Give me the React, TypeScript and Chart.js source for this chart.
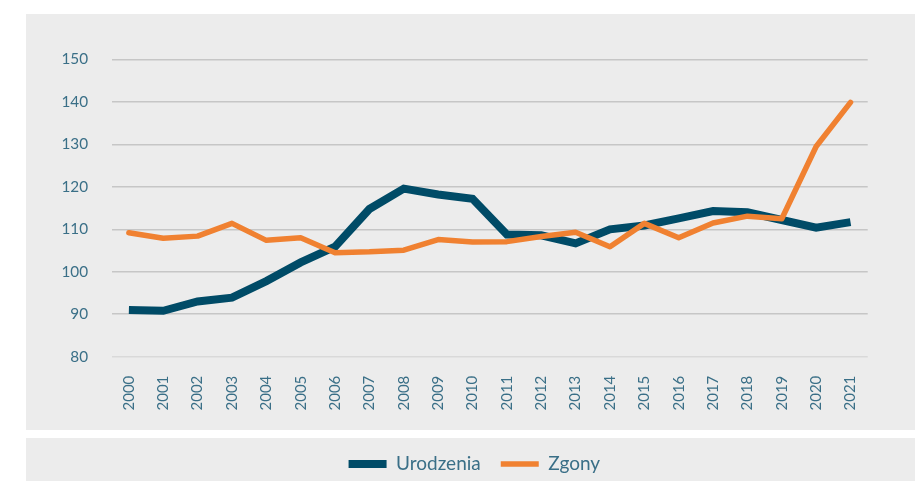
import React, { useEffect, useRef } from "react";
import { Chart, registerables } from "chart.js";

Chart.register(...registerables);

const years = [
  "2000", "2001", "2002", "2003", "2004", "2005", "2006", "2007", "2008", "2009", "2010",
  "2011", "2012", "2013", "2014", "2015", "2016", "2017", "2018", "2019", "2020", "2021",
];
const urodzenia = [
  91.0, 90.8, 93.0, 93.9, 97.8, 102.2, 105.9, 114.8, 119.6, 118.2, 117.2,
  108.8, 108.6, 106.7, 110.0, 110.9, 112.6, 114.3, 114.0, 112.2, 110.4, 111.7,
];
const zgony = [
  109.2, 107.9, 108.4, 111.4, 107.4, 108.0, 104.5, 104.7, 105.1, 107.6, 107.0,
  107.1, 108.3, 109.3, 105.9, 111.4, 108.0, 111.5, 113.1, 112.5, 129.5, 139.9,
];
const seriesNames = ["Urodzenia", "Zgony"];
const yMin = 80;
const yMax = 150;
const yStep = 10;

const TEXT = "#3a6f87";
const DARK = "#004b67";
const ORANGE = "#f08131";
const PANEL = "#ececec";

const backgroundPlugin = {
  id: "panels",
  beforeDraw(chart: any) {
    const ctx = chart.ctx;
    ctx.save();
    ctx.fillStyle = "#ffffff";
    ctx.fillRect(0, 0, chart.width, chart.height);
    ctx.fillStyle = PANEL;
    ctx.fillRect(26, 14, chart.width - 26, 416);
    ctx.fillRect(26, 438, chart.width - 26, chart.height - 438);
    ctx.restore();
  },
};

// centre the legend on the grey legend panel rather than on the plot
const legendShiftPlugin = {
  id: "legendShift",
  afterLayout(chart: any) {
    const lg = chart.legend;
    if (lg) {
      lg.left = 81;
      lg.width = lg.right - lg.left;
    }
  },
};

export default function App() {
  const ref = useRef<HTMLCanvasElement>(null);

  useEffect(() => {
    if (!ref.current) return;
    const chart = new Chart(ref.current, {
      type: "line",
      data: {
        labels: years,
        datasets: [
          {
            label: seriesNames[0],
            data: urodzenia,
            borderColor: DARK,
            backgroundColor: DARK,
            borderWidth: 8,
            borderCapStyle: "butt",
            borderJoinStyle: "miter",
            pointRadius: 0,
            tension: 0,
            order: 2,
          },
          {
            label: seriesNames[1],
            data: zgony,
            borderColor: ORANGE,
            backgroundColor: ORANGE,
            borderWidth: 5.5,
            borderCapStyle: "round",
            borderJoinStyle: "round",
            pointRadius: 0,
            tension: 0,
            order: 1,
          },
        ],
      },
      options: {
        animation: false,
        responsive: false,
        maintainAspectRatio: false,
        layout: { padding: { left: 50, right: 47.3, top: 59.5, bottom: -2.5 } },
        plugins: {
          tooltip: { enabled: false },
          legend: {
            position: "bottom",
            labels: {
              usePointStyle: true,
              pointStyle: "line",
              pointStyleWidth: 38,
              padding: 20,
              color: TEXT,
              font: { family: "Lato", size: 19, lineHeight: 1 },
              sort: (a: any, b: any) => a.datasetIndex - b.datasetIndex,
            },
          },
        },
        scales: {
          x: {
            offset: true,
            grid: { display: false, drawTicks: false },
            border: { display: false },
            ticks: {
              color: TEXT,
              font: { family: "Lato", size: 15 },
              minRotation: 90,
              maxRotation: 90,
              autoSkip: false,
              padding: 19,
            },
            afterFit: (scale: any) => {
              scale.height = 77.8;
            },
          },
          y: {
            min: yMin,
            max: yMax,
            grid: {
              drawTicks: false,
              lineWidth: 1.5,
              color: (c: any) => (c.tick && c.tick.value === yMin ? "#d9d9d9" : "#c6c6c6"),
            },
            border: { display: false },
            ticks: {
              stepSize: yStep,
              color: TEXT,
              font: { family: "Lato", size: 15.3 },
              padding: 23.7,
            },
            afterFit: (scale: any) => {
              scale.width = 61.7;
            },
          },
        },
      },
      plugins: [backgroundPlugin, legendShiftPlugin],
    });
    return () => chart.destroy();
  }, []);

  return (
    <div style={{ position: "fixed", left: 0, top: 0, width: 915, height: 481, overflow: "hidden", background: "#fff" }}>
      <canvas ref={ref} width={915} height={481} style={{ display: "block", width: 915, height: 481 }} />
    </div>
  );
}
